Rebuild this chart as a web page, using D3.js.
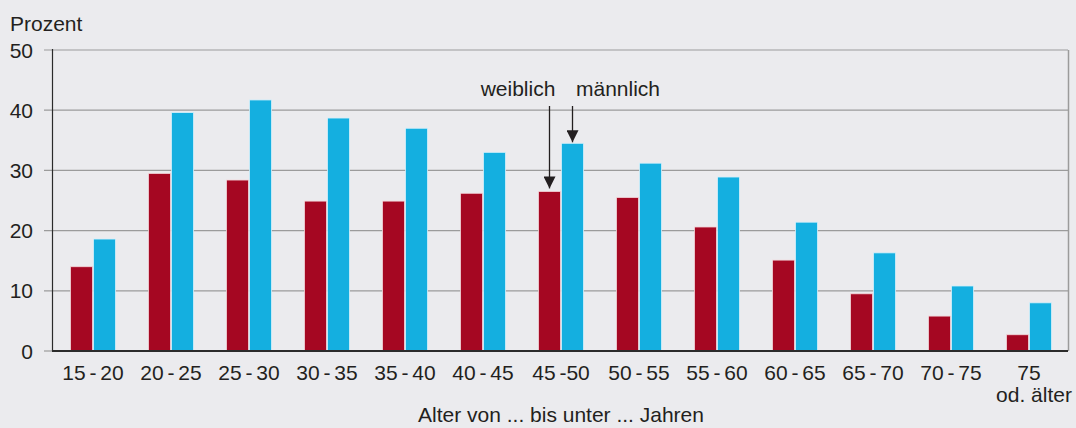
<!DOCTYPE html>
<html>
<head>
<meta charset="utf-8">
<script src="https://cdn.jsdelivr.net/npm/d3@7"></script>
<style>
  body { margin: 0; background: #ebebee; }
  text { font-family: "Liberation Sans", Arial, sans-serif; fill: #231f20; }
</style>
</head>
<body>
<div id="chart"></div>
<script>
// data
var ageGroups = ["15 - 20", "20 - 25", "25 - 30", "30 - 35", "35 - 40", "40 - 45", "45 -50",
                 "50 - 55", "55 - 60", "60 - 65", "65 - 70", "70 - 75", "75|od. älter"];
var female = [14.0, 29.5, 28.4, 24.9, 24.9, 26.2, 26.5, 25.5, 20.6, 15.1, 9.5, 5.8, 2.7];
var male   = [18.6, 39.6, 41.7, 38.7, 37.0, 33.0, 34.5, 31.2, 28.9, 21.4, 16.3, 10.8, 8.0];
var yTicks = [0, 10, 20, 30, 40, 50];
var series = ["weiblich", "männlich"];

var W = 1076, H = 428;
var plotLeft = 54, plotRight = 1068, plotTop = 50, plotBottom = 351;
var fs = "21px";

var svg = d3.select("#chart").append("svg")
    .attr("width", W)
    .attr("height", H);

var x = d3.scaleBand()
  .domain(ageGroups)
  .range([plotLeft, plotRight]);

var y = d3.scaleLinear()
  .domain([0, 50])
  .range([plotBottom, plotTop]);

var barW = 22, gap = 1;

// gridlines
svg.append("g")
  .selectAll("line")
  .data(yTicks.filter(function(d) { return d > 0; }))
  .enter().append("line")
    .attr("x1", 44).attr("x2", plotRight)
    .attr("y1", function(d) { return y(d); })
    .attr("y2", function(d) { return y(d); })
    .attr("stroke", "#9b9b9b")
    .attr("stroke-width", 1.2);

// small tick at 0
svg.append("line")
  .attr("x1", 44).attr("x2", 52)
  .attr("y1", y(0)).attr("y2", y(0))
  .attr("stroke", "#9b9b9b").attr("stroke-width", 1.2);

// right border
svg.append("line")
  .attr("x1", plotRight + 0.5).attr("x2", plotRight + 0.5)
  .attr("y1", y(50)).attr("y2", y(0))
  .attr("stroke", "#9b9b9b").attr("stroke-width", 1.5);

// y tick labels
svg.append("g")
  .selectAll("text")
  .data(yTicks)
  .enter().append("text")
    .attr("x", 33)
    .attr("y", function(d) { return y(d); })
    .attr("dy", "0.36em")
    .attr("text-anchor", "end")
    .style("font-size", fs)
    .text(function(d) { return d; });

svg.append("text")
  .attr("x", 10)
  .attr("y", 31)
  .style("font-size", fs)
  .text("Prozent");

// bars
var groups = svg.append("g")
  .selectAll("g")
  .data(ageGroups)
  .enter().append("g")
    .attr("transform", function(d) { return "translate(" + (x(d) + x.bandwidth() / 2) + ",0)"; });

groups.append("rect")
  .attr("x", -barW - gap / 2)
  .attr("width", barW)
  .attr("y", function(d, i) { return y(female[i]); })
  .attr("height", function(d, i) { return y(0) - y(female[i]); })
  .attr("fill", "#a50722")
  .attr("stroke", "#f3d6da")
  .attr("stroke-width", 0.8);

groups.append("rect")
  .attr("x", gap / 2)
  .attr("width", barW)
  .attr("y", function(d, i) { return y(male[i]); })
  .attr("height", function(d, i) { return y(0) - y(male[i]); })
  .attr("fill", "#14afe0")
  .attr("stroke", "#d4f0fb")
  .attr("stroke-width", 0.8);

// axes lines
svg.append("line")
  .attr("x1", 52).attr("x2", plotRight)
  .attr("y1", y(0)).attr("y2", y(0))
  .attr("stroke", "#2b2b2b").attr("stroke-width", 2);

svg.append("line")
  .attr("x1", 52.5).attr("x2", 52.5)
  .attr("y1", y(50) - 1).attr("y2", y(0))
  .attr("stroke", "#2b2b2b").attr("stroke-width", 1.2);

// x labels
var xl = svg.append("g")
  .selectAll("text")
  .data(ageGroups)
  .enter().append("text")
    .attr("y", 380)
    .attr("text-anchor", "middle")
    .style("font-size", fs)
    .style("word-spacing", "-2px");

xl.each(function(d) {
  var parts = d.split("|");
  var t = d3.select(this);
  parts.forEach(function(p, j) {
    t.append("tspan")
      .attr("x", x(d) + x.bandwidth() / 2 + (j > 0 ? 5 : 0))
      .attr("dy", j === 0 ? 0 : 22)
      .style("word-spacing", j > 0 ? "0px" : null)
      .text(p);
  });
});

svg.append("text")
  .attr("x", 561)
  .attr("y", 422)
  .attr("text-anchor", "middle")
  .style("font-size", fs)
  .text("Alter von ... bis unter ... Jahren");

// annotations with arrows at 45-50 group
var cx = x(ageGroups[6]) + x.bandwidth() / 2;
var annData = [
  { label: series[0], ax: cx - gap / 2 - barW / 2, tip: y(female[6]) - 3, tx: cx - 43 },
  { label: series[1], ax: cx + gap / 2 + barW / 2, tip: y(male[6]) - 1, tx: cx + 57 }
];

svg.append("defs").append("marker")
  .attr("id", "arrow")
  .attr("viewBox", "0 0 12 12")
  .attr("refX", 12).attr("refY", 6)
  .attr("markerWidth", 12).attr("markerHeight", 12)
  .attr("markerUnits", "userSpaceOnUse")
  .attr("orient", "auto")
  .append("path")
    .attr("d", "M0,0 L12,6 L0,12 Z")
    .attr("fill", "#231f20");

annData.forEach(function(a) {
  svg.append("line")
    .attr("x1", a.ax).attr("x2", a.ax)
    .attr("y1", 106).attr("y2", a.tip)
    .attr("stroke", "#231f20")
    .attr("stroke-width", 1.3)
    .attr("marker-end", "url(#arrow)");
  svg.append("text")
    .attr("x", a.tx)
    .attr("y", 96)
    .attr("text-anchor", "middle")
    .style("font-size", fs)
    .text(a.label);
});
</script>
</body>
</html>
